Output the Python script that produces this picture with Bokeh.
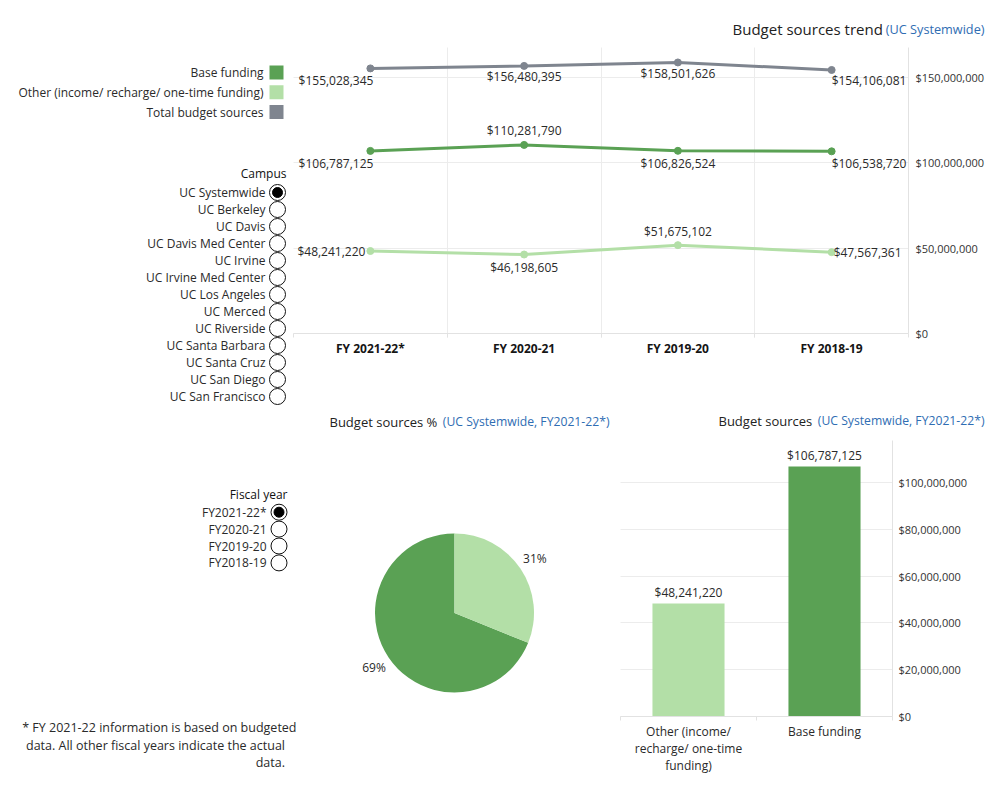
import math
from bokeh.plotting import figure
from bokeh.models import (ColumnDataSource, Range1d, NumeralTickFormatter, FixedTicker, Grid)
from bokeh.layouts import row, column
from bokeh.core.properties import value, field
from bokeh.embed import file_html
from bokeh.resources import INLINE

# ---------------- data ----------------
fiscal_years = ["FY 2021-22*", "FY 2020-21", "FY 2019-20", "FY 2018-19"]
base_funding = [106787125, 110281790, 106826524, 106538720]
other_funding = [48241220, 46198605, 51675102, 47567361]
total_sources = [155028345, 156480395, 158501626, 154106081]
series_names = ["Base funding", "Other (income/ recharge/ one-time funding)", "Total budget sources"]
campuses = ["UC Systemwide", "UC Berkeley", "UC Davis", "UC Davis Med Center", "UC Irvine",
            "UC Irvine Med Center", "UC Los Angeles", "UC Merced", "UC Riverside",
            "UC Santa Barbara", "UC Santa Cruz", "UC San Diego", "UC San Francisco"]
fy_options = ["FY2021-22*", "FY2020-21", "FY2019-20", "FY2018-19"]
bar_categories = ["Other (income/ recharge/ one-time funding)", "Base funding"]
bar_tick_labels = ["Other (income/\nrecharge/ one-time\nfunding)", "Base funding"]
bar_values = [other_funding[0], base_funding[0]]
pie_names = ["Base funding", "Other (income/ recharge/ one-time funding)"]
pie_values = [base_funding[0], other_funding[0]]
footnote_lines = ["* FY 2021-22 information is based on budgeted",
                  "data. All other fiscal years indicate the actual",
                  "data."]

# ---------------- styles ----------------
FONT = "Open Sans"
C_BASE = "#5aa154"
C_OTHER = "#b3dfa7"
C_TOTAL = "#7f858f"
C_TEXT = "#2a2a2a"
C_BLUE = "#2f6db3"
C_GRID = "#ececec"
C_AXIS = "#e2e2e2"
HAS_CB = "cross_bounds" in Grid.properties()

label_styles = {
    "total": dict(align=["right", "center", "center", "left"], xo=[3, 0, 0, 0], yo=[12, 11, 11, 11]),
    "base": dict(align=["right", "center", "center", "left"], xo=[3, 0, 0, 0], yo=[13, -14, 13, 12]),
    "other": dict(align=["right", "center", "center", "left"], xo=[-5, 0, 0, 2], yo=[0, 13, -14, 0]),
}


def base_fig(**kw):
    return figure(toolbar_location=None, output_backend="svg", outline_line_color=None,
                  background_fill_color="white", border_fill_color="white", min_border=0, **kw)


def add_px(p, x0, y0, w, h):
    """extra pixel ranges (page coordinates) used for the page-layout texts"""
    p.extra_x_ranges = {"px": Range1d(x0, x0 + w)}
    p.extra_y_ranges = {"px": Range1d(y0 + h, y0)}


def panel(width, height, x0, y0):
    p = base_fig(width=width, height=height, x_range=Range1d(x0, x0 + width),
                 y_range=Range1d(y0 + height, y0), x_axis_location=None, y_axis_location=None)
    p.grid.visible = False
    return p


def ptext(p, xs, ys, texts, size="12px", color=C_TEXT, align="right", baseline="middle", px=False):
    kw = dict(x_range_name="px", y_range_name="px") if px else {}
    p.text(x=xs, y=ys, text=texts, text_font=value(FONT), text_font_size=size,
           text_color=color, text_align=align, text_baseline=baseline, **kw)


def title(p, x_left, x_right, y, dark, blue, dark_size, blue_size):
    ptext(p, [x_left], [y], [dark], size=dark_size, color="#222222", align="left", px=True)
    ptext(p, [x_right], [y], [blue], size=blue_size, color=C_BLUE, align="right", px=True)


def radios(p, options, cx, y0, step, label_x, selected=0):
    ys = [y0 + step * i for i in range(len(options))]
    p.scatter(x=[cx] * len(options), y=ys, size=16, fill_color="white", line_color="#111111",
              line_width=1)
    p.scatter(x=[cx], y=[ys[selected]], size=10, fill_color="#000000", line_color="#000000")
    ptext(p, [label_x] * len(options), ys, options)


def style_axis(ax, size, color, bold=False):
    ax.major_label_text_font = FONT
    ax.major_label_text_font_size = size
    ax.major_label_text_color = color
    if bold:
        ax.major_label_text_font_style = "bold"
    ax.axis_line_color = C_AXIS
    ax.major_tick_line_color = None
    ax.major_tick_out = 0
    ax.major_tick_in = 0
    ax.minor_tick_in = 0


def grids(p, xticks, xcross, yticks, ycross):
    p.xgrid.ticker = FixedTicker(ticks=xticks)
    p.ygrid.ticker = FixedTicker(ticks=yticks)
    p.grid.grid_line_color = C_GRID
    if HAS_CB:
        p.xgrid.cross_bounds = xcross
        p.ygrid.cross_bounds = ycross
    else:
        p.grid.visible = False
        if xticks:
            p.segment(x0=xticks, x1=xticks, y0=[xcross[0]] * len(xticks),
                      y1=[xcross[1]] * len(xticks), line_color=C_GRID, line_width=1)
        p.segment(x0=[ycross[0]] * len(yticks), x1=[ycross[1]] * len(yticks), y0=yticks,
                  y1=yticks, line_color=C_GRID, line_width=1)


# ---------------- top-left panel: legend + campus ----------------
tl = panel(290, 408, 0, 0)
sw_y = [72 + 19.75 * i for i in range(3)]
tl.rect(x=[276] * 3, y=sw_y, width=14, height=14, fill_color=[C_BASE, C_OTHER, C_TOTAL],
        line_color=None)
ptext(tl, [263] * 3, sw_y, series_names, size="12px")
ptext(tl, [286], [173], ["Campus"], color="#111111")
radios(tl, campuses, 277, 192, 17, 265)

# ---------------- line chart ----------------
LX0, LPX = 293, 153.75          # frame origin (px) and px per category
LY0, LPM = 333, 1.71e-6         # zero line (px) and px per dollar
LW, LH, LXP = 706, 408, 290
xpos = [i + 0.5 for i in range(len(fiscal_years))]
y_top_val = (LY0 - 47) / LPM
lp = base_fig(width=LW, height=LH,
              x_range=Range1d((LXP - LX0) / LPX, (LXP + LW - LX0) / LPX),
              y_range=Range1d(-(LH - LY0) / LPM, LY0 / LPM), y_axis_location="right")
add_px(lp, LXP, 0, LW, LH)
ncat = len(fiscal_years)
line_ticks = list(range(0, 150_000_001, 50_000_000))
grids(lp, list(range(1, ncat)), (-2.5e6, y_top_val), line_ticks, (0, ncat))

for vals, col, key in [(total_sources, C_TOTAL, "total"), (base_funding, C_BASE, "base"),
                       (other_funding, C_OTHER, "other")]:
    st = label_styles[key]
    src = ColumnDataSource(dict(x=xpos, y=vals, label=[f"${v:,}" for v in vals],
                                align=st["align"], xo=st["xo"], yo=st["yo"]))
    lp.line("x", "y", source=src, line_color=col, line_width=3)
    lp.scatter("x", "y", source=src, size=7, fill_color=col, line_color=col)
    lp.text("x", "y", text="label", source=src, text_align=field("align"),
            x_offset=field("xo"), y_offset=field("yo"), text_baseline="middle",
            text_font=value(FONT), text_font_size="12px", text_color=C_TEXT)

xa = lp.xaxis[0]
xa.fixed_location = 0
xa.bounds = (0, ncat)
xa.ticker = FixedTicker(ticks=xpos, minor_ticks=list(range(0, ncat + 1)))
xa.major_label_overrides = {x: y for x, y in zip(xpos, fiscal_years)}
style_axis(xa, "12px", "#151515", bold=True)
xa.minor_tick_line_color = C_AXIS
xa.minor_tick_out = 4
xa.major_label_standoff = 2
ya = lp.yaxis[0]
ya.fixed_location = ncat
ya.bounds = (0, y_top_val)
ya.ticker = FixedTicker(ticks=line_ticks)
ya.formatter = NumeralTickFormatter(format="$0,0")
style_axis(ya, "11px", "#333333")
ya.minor_tick_line_color = None
ya.major_label_standoff = 7
title(lp, 732, 984, 28, "Budget sources trend", "(UC Systemwide)", "15px", "12.7px")

# ---------------- bottom-left panel: fiscal year + footnote ----------------
BH = 382
bl = panel(300, BH, 0, 408)
ptext(bl, [287], [494], ["Fiscal year"], color="#111111")
radios(bl, fy_options, 278.5, 511.7, 16.9, 266)
ptext(bl, [296, 284.5, 284.5], [727, 745, 762], footnote_lines, size="12.5px")

# ---------------- pie chart ----------------
PCX, PCY = 454, 612.5
pp = base_fig(width=312, height=BH, x_range=Range1d(300 - PCX, 612 - PCX),
              y_range=Range1d(PCY - (408 + BH), PCY - 408),
              x_axis_location=None, y_axis_location=None)
pp.grid.visible = False
add_px(pp, 300, 408, 312, BH)
tot = sum(pie_values)
starts, ends, lx, ly, pct = [], [], [], [], []
a = math.pi / 2
for v in pie_values:
    sweep = 2 * math.pi * v / tot
    starts.append(a)
    ends.append(a + sweep)
    mid = a + sweep / 2
    lx.append(97 * math.cos(mid))
    ly.append(97 * math.sin(mid))
    pct.append(f"{round(100 * v / tot)}%")
    a += sweep
psrc = ColumnDataSource(dict(s=starts, e=ends, c=[C_BASE, C_OTHER], lx=lx, ly=ly, pct=pct,
                             name=pie_names))
pp.wedge(x=0, y=0, radius=79.5, start_angle="s", end_angle="e", fill_color="c",
         line_color=None, source=psrc)
pp.text(x="lx", y="ly", text="pct", source=psrc, text_align="center", text_baseline="middle",
        text_font=value(FONT), text_font_size="12px", text_color=C_TEXT)
title(pp, 329, 609, 421, "Budget sources %", "(UC Systemwide, FY2021-22*)", "13px", "12.2px")

# ---------------- bar chart ----------------
BX0, BPX = 620, 136
BY0, BPM = 716, 2.34e-6
BW, BXP = 384, 612
bx = [i + 0.5 for i in range(len(bar_categories))]
nb = len(bar_categories)
b_top_val = (BY0 - 440) / BPM
bp = base_fig(width=BW, height=BH,
              x_range=Range1d((BXP - BX0) / BPX, (BXP + BW - BX0) / BPX),
              y_range=Range1d(-(408 + BH - BY0) / BPM, (BY0 - 408) / BPM),
              y_axis_location="right")
add_px(bp, BXP, 408, BW, BH)
bar_ticks = list(range(0, 100_000_001, 20_000_000))
grids(bp, [], (0, 1), bar_ticks, (0, nb))
bp.xgrid.visible = False
bsrc = ColumnDataSource(dict(x=bx, top=bar_values, c=[C_OTHER, C_BASE], name=bar_categories,
                             label=[f"${v:,}" for v in bar_values]))
bp.vbar(x="x", top="top", width=0.53, fill_color="c", line_color=None, source=bsrc)
bp.text(x="x", y="top", text="label", source=bsrc, y_offset=-3, text_align="center",
        text_baseline="bottom", text_font=value(FONT), text_font_size="12px",
        text_color=C_TEXT)
bxa = bp.xaxis[0]
bxa.fixed_location = 0
bxa.bounds = (0, nb)
bxa.ticker = FixedTicker(ticks=bx, minor_ticks=list(range(0, nb + 1)))
bxa.major_label_overrides = {x: t for x, t in zip(bx, bar_tick_labels)}
style_axis(bxa, "12px", C_TEXT)
bxa.minor_tick_line_color = C_AXIS
bxa.minor_tick_out = 4
bxa.major_label_standoff = 2
bxa.major_label_text_line_height = 1.0
bya = bp.yaxis[0]
bya.fixed_location = nb
bya.bounds = (0, b_top_val)
bya.ticker = FixedTicker(ticks=bar_ticks)
bya.formatter = NumeralTickFormatter(format="$0,0")
style_axis(bya, "11px", "#333333")
bya.minor_tick_line_color = None
bya.major_label_standoff = 6
title(bp, 718, 984, 420, "Budget sources", "(UC Systemwide, FY2021-22*)", "13px", "12.2px")

layout = column(row(tl, lp), row(bl, pp, bp))
open("out.html", "w").write(file_html(layout, INLINE))
